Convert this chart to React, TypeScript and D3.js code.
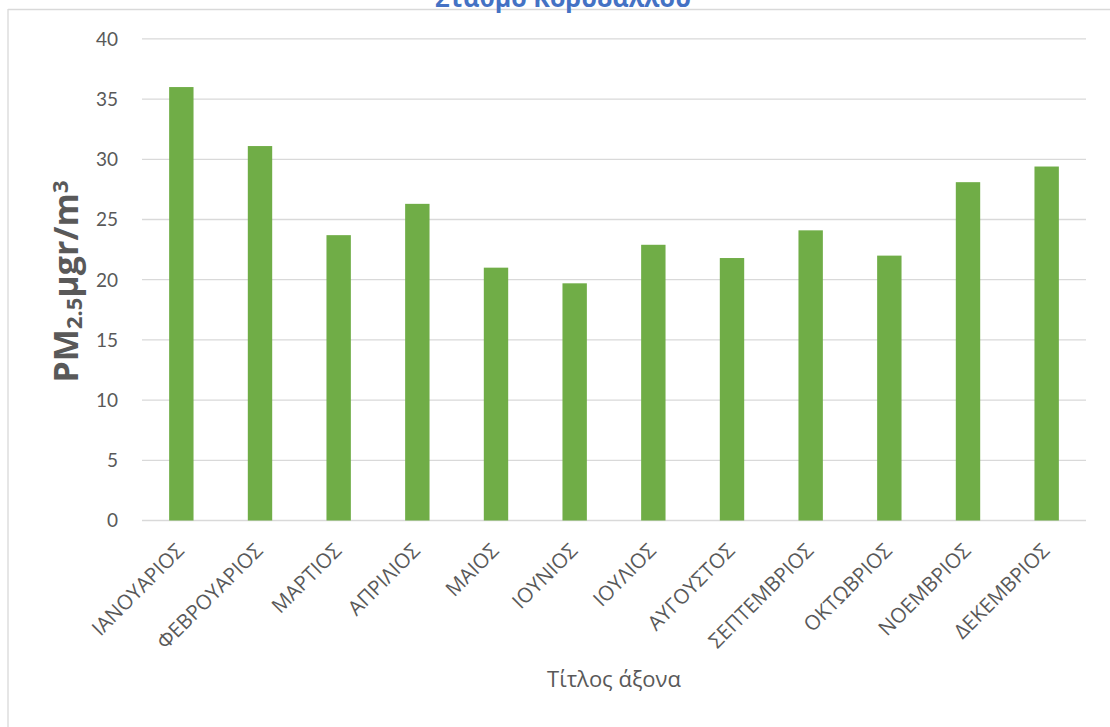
import React from 'react';
import * as d3 from 'd3';

// Monthly mean PM2.5 concentrations
const months: string[] = [
  'ΙΑΝΟΥΑΡΙΟΣ', 'ΦΕΒΡΟΥΑΡΙΟΣ', 'ΜΑΡΤΙΟΣ', 'ΑΠΡΙΛΙΟΣ', 'ΜΑΙΟΣ', 'ΙΟΥΝΙΟΣ',
  'ΙΟΥΛΙΟΣ', 'ΑΥΓΟΥΣΤΟΣ', 'ΣΕΠΤΕΜΒΡΙΟΣ', 'ΟΚΤΩΒΡΙΟΣ', 'ΝΟΕΜΒΡΙΟΣ', 'ΔΕΚΕΜΒΡΙΟΣ',
];
const pm25: number[] = [36.0, 31.1, 23.7, 26.3, 21.0, 19.7, 22.9, 21.8, 24.1, 22.0, 28.1, 29.4];
const yTicks: number[] = [0, 5, 10, 15, 20, 25, 30, 35, 40];

const chartTitle = 'Σταθμό Κορυδαλλού';
const xAxisTitle = 'Τίτλος άξονα';

const W = 1110;
const H = 727;
const plot = { left: 142, right: 1086, top: 38.9, bottom: 520.5 };

const textGray = '#595959';
const gridGray = '#D9D9D9';
const barGreen = '#70AD47';

export default function App() {
  const x = d3
    .scaleBand<string>()
    .domain(months)
    .range([plot.left, plot.right])
    .paddingInner(0.69)
    .paddingOuter(0.345);

  const y = d3.scaleLinear().domain([0, 40]).range([plot.bottom, plot.top]);

  return (
    <svg
      width={W}
      height={H}
      style={{ position: 'absolute', left: 0, top: 0, background: '#fff' }}
      fontFamily="'Open Sans', sans-serif"
    >
      {/* chart frame */}
      <line x1={8} x2={W} y1={9.5} y2={9.5} stroke={gridGray} strokeWidth={1.3} />
      <line x1={8} x2={8} y1={9} y2={H} stroke={gridGray} strokeWidth={1.3} />

      {/* title */}
      <text
        x={563}
        y={7}
        textAnchor="middle"
        fontSize={25}
        fontWeight="bold"
        fill="#4472C4"
      >
        {chartTitle}
      </text>

      {/* gridlines */}
      {yTicks.map((t) => (
        <line
          key={`g${t}`}
          x1={plot.left}
          x2={plot.right}
          y1={y(t)}
          y2={y(t)}
          stroke={gridGray}
          strokeWidth={1.3}
        />
      ))}

      {/* y tick labels */}
      {yTicks.map((t) => (
        <text
          key={`t${t}`}
          x={118}
          y={y(t)}
          dy="0.36em"
          textAnchor="end"
          fontSize={19}
          fontFamily="Lato, 'Open Sans', sans-serif"
          fill={textGray}
        >
          {t}
        </text>
      ))}

      {/* bars */}
      {months.map((m, i) => (
        <rect
          key={m}
          x={x(m)!}
          y={y(pm25[i])}
          width={x.bandwidth()}
          height={y(0) - y(pm25[i])}
          fill={barGreen}
        />
      ))}

      {/* category labels */}
      {months.map((m) => {
        const cx = x(m)! + x.bandwidth() / 2;
        return (
          <text
            key={`l${m}`}
            transform={`translate(${cx + 4},552) rotate(-45)`}
            textAnchor="end"
            fontSize={20.5}
            fill={textGray}
          >
            {m}
          </text>
        );
      })}

      {/* x axis title */}
      <text
        x={(plot.left + plot.right) / 2}
        y={687}
        textAnchor="middle"
        fontSize={22}
        fill={textGray}
      >
        {xAxisTitle}
      </text>

      {/* y axis title */}
      <text
        transform={`translate(78,281.5) rotate(-90)`}
        textAnchor="middle"
        fontSize={34}
        fontWeight="bold"
        fill={textGray}
      >
        PM
        <tspan fontSize={22} baselineShift="-18%">2.5</tspan>
        <tspan>μgr/m</tspan>
        <tspan fontSize={22} baselineShift="45%">3</tspan>
      </text>
    </svg>
  );
}
